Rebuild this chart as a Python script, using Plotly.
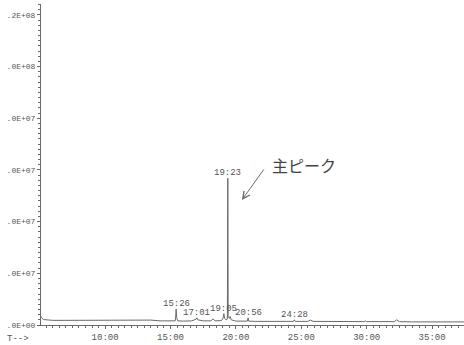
import plotly.graph_objects as go

# Total ion chromatogram: retention time (min) vs. abundance (counts)
time_min = [5.10, 5.18, 5.30, 5.55, 6.0, 7.0, 8.0, 9.0, 10.0, 11.0, 12.0,
            12.8, 13.5, 14.2, 15.0, 15.36, 15.40, 15.433, 15.47, 15.55,
            16.0, 16.6, 16.95, 17.017, 17.08, 17.5, 18.1, 18.25, 18.4,
            18.9, 19.03, 19.083, 19.13, 19.25, 19.35, 19.383, 19.41, 19.50,
            19.56, 19.65, 20.0, 20.88, 20.933, 20.98, 21.5, 22.5, 23.5,
            24.40, 24.467, 24.53, 25.5, 25.7, 25.9, 27.0, 28.5, 29.8, 29.9,
            30.0, 31.0, 32.1, 32.3, 32.5, 33.5, 35.0, 36.5, 37.5]
abundance = [3.4e6, 2.6e6, 2.1e6, 1.9e6, 1.8e6, 1.8e6, 1.8e6, 1.8e6, 1.9e6,
             1.9e6, 2.0e6, 2.0e6, 1.9e6, 1.6e6, 1.5e6, 1.6e6, 3.5e6, 6.2e6,
             3.0e6, 1.6e6, 1.5e6, 1.6e6, 2.2e6, 2.8e6, 2.0e6, 1.6e6, 1.6e6,
             2.4e6, 1.6e6, 1.7e6, 2.8e6, 4.4e6, 2.6e6, 2.0e6, 2.3e6, 5.68e7,
             3.2e6, 2.6e6, 3.3e6, 2.0e6, 1.5e6, 1.5e6, 2.8e6, 1.5e6, 1.4e6,
             1.4e6, 1.4e6, 1.4e6, 2.0e6, 1.4e6, 1.4e6, 1.9e6, 1.4e6, 1.3e6,
             1.3e6, 1.3e6, 1.6e6, 1.3e6, 1.3e6, 1.3e6, 2.0e6, 1.3e6, 1.2e6,
             1.2e6, 1.2e6, 1.2e6]

# Labelled peaks (retention time text, time in min, apex abundance)
peak_labels = ["15:26", "17:01", "19:05", "19:23", "20:56", "24:28"]
peak_times = [15.433, 17.017, 19.083, 19.383, 20.933, 24.467]
peak_heights = [6.2e6, 2.8e6, 4.4e6, 5.68e7, 2.8e6, 2.0e6]

x_tick_vals = [10, 15, 20, 25, 30, 35]
x_tick_text = ["10:00", "15:00", "20:00", "25:00", "30:00", "35:00"]
y_tick_vals = [0, 2e7, 4e7, 6e7, 8e7, 1.0e8, 1.2e8]
y_tick_text = [".0E+00", ".0E+07", ".0E+07", ".0E+07", ".0E+07", ".0E+08", ".2E+08"]

main_peak_text = "主ピーク"

ink = "#6a6a6a"
text_ink = "#555555"
mono = "Liberation Mono, DejaVu Sans Mono, monospace"

fig = go.Figure()
fig.add_trace(go.Scatter(x=time_min, y=abundance, mode="lines",
                         line=dict(color=ink, width=1), hoverinfo="skip"))

for lab, t, h in zip(peak_labels, peak_times, peak_heights):
    fig.add_annotation(x=t, y=h, text=lab, showarrow=False,
                       xanchor="center", yanchor="bottom", yshift=-2,
                       font=dict(family=mono, size=9, color=text_ink))

# Arrow pointing at the main peak, with its caption
fig.add_annotation(x=20.46, y=4.84e7, text="", showarrow=True,
                   ax=23, ay=-32, arrowhead=5, arrowsize=1.4,
                   arrowwidth=1, arrowcolor=ink)
fig.add_annotation(x=22.6, y=6.19e7, text=main_peak_text, showarrow=False,
                   xanchor="left", yanchor="middle",
                   font=dict(family="Noto Sans CJK JP", size=16, color="#444444"))

fig.add_annotation(xref="paper", yref="paper", x=-0.085, y=0, yshift=-7,
                   text="T-->", showarrow=False, xanchor="left", yanchor="top",
                   font=dict(family=mono, size=9, color=text_ink))

fig.update_layout(
    width=464, height=345,
    margin=dict(l=41, r=0, t=4, b=20),
    template="none",
    paper_bgcolor="white", plot_bgcolor="white",
    showlegend=False,
    xaxis=dict(range=[5.1, 37.44], tickvals=x_tick_vals, ticktext=x_tick_text,
               showgrid=False, zeroline=False, showline=True,
               linecolor=ink, linewidth=1, ticks="outside", ticklen=3,
               tickcolor=ink, automargin=False,
               tickfont=dict(family=mono, size=9, color=text_ink),
               minor=dict(dtick=0.5, tick0=5, ticks="outside", ticklen=2,
                          tickcolor=ink)),
    yaxis=dict(range=[0, 1.2424e8], tickvals=y_tick_vals, ticktext=y_tick_text,
               showgrid=False, zeroline=False, showline=True,
               linecolor=ink, linewidth=1, ticks="outside", ticklen=3,
               tickcolor=ink, automargin=False,
               tickfont=dict(family=mono, size=8, color=text_ink),
               minor=dict(dtick=2e6, tick0=0, ticks="outside", ticklen=2,
                          tickcolor=ink)),
)

fig.write_html("out.html")
